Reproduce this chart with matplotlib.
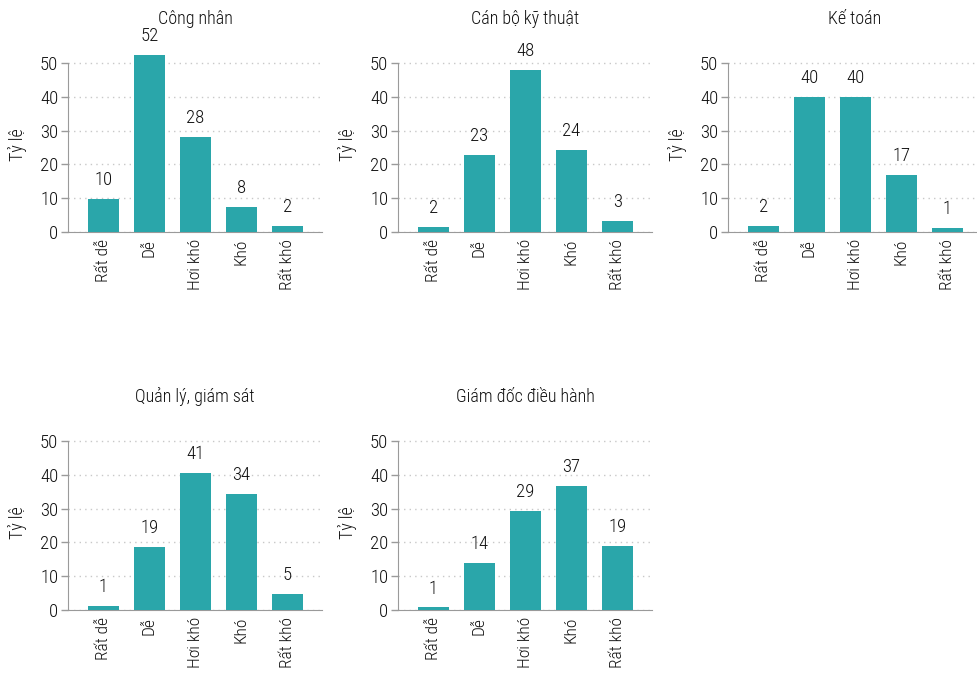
import numpy as np
import matplotlib
matplotlib.use('Agg')
import matplotlib.pyplot as plt

# Difficulty levels (x axis) and one series per job group
categories = ['Rất dễ', 'Dễ', 'Hơi khó', 'Khó', 'Rất khó']
titles = ['Công nhân', 'Cán bộ kỹ thuật', 'Kế toán', 'Quản lý, giám sát', 'Giám đốc điều hành']
cong_nhan = [9.8, 52.4, 28.1, 7.5, 1.8]
can_bo_ky_thuat = [1.6, 22.8, 47.9, 24.3, 3.3]
ke_toan = [1.8, 40.0, 40.0, 16.9, 1.2]
quan_ly = [1.3, 18.7, 40.6, 34.4, 4.8]
giam_doc = [0.8, 14.0, 29.3, 36.8, 18.9]
series = [cong_nhan, can_bo_ky_thuat, ke_toan, quan_ly, giam_doc]
yticks = [0, 10, 20, 30, 40, 50]

bar_color = '#2aa6aa'
text_color = '#111111'
axis_color = '#9a9a9a'

plt.rcParams['font.family'] = ['Roboto Condensed', 'Roboto', 'DejaVu Sans']
plt.rcParams['font.weight'] = 'light'
plt.rcParams['text.color'] = text_color
plt.rcParams['axes.labelcolor'] = text_color
plt.rcParams['axes.titleweight'] = 'light'
plt.rcParams['axes.labelweight'] = 'light'
plt.rcParams['xtick.color'] = text_color
plt.rcParams['ytick.color'] = text_color

fig = plt.figure(figsize=(9.77, 6.78), dpi=100)

W, H = 977.0, 678.0
lefts = [68, 398, 728, 68, 398]
bottoms = [232, 232, 232, 610, 610]
ax_w = 254
ax_h = 186

for i, vals in enumerate(series):
    ax = fig.add_axes([lefts[i] / W, 1 - bottoms[i] / H, ax_w / W, ax_h / H])
    x = np.arange(len(categories))
    ax.bar(x, vals, width=0.67, color=bar_color, zorder=3)
    for xi, v in zip(x, vals):
        ax.annotate(f"{v:.0f}", (xi, v), xytext=(0, 7), textcoords='offset points',
                    ha='center', va='bottom', fontsize=13.5, color=text_color)

    ax.set_xlim(-0.77, 4.75)
    ax.set_ylim(0, 55)
    ax.set_yticks(yticks)
    ax.set_xticks(x)
    ax.set_xticklabels(categories, rotation=90, fontsize=12.5)
    ax.tick_params(axis='x', length=0, pad=5)
    ax.tick_params(axis='y', length=5, width=1, color=axis_color, labelsize=13.5, pad=2)

    ax.grid(axis='y', linestyle=(0, (1, 3)), color='#c8c8c8', linewidth=1, zorder=0)
    ax.grid(axis='x', visible=False)
    for side in ['top', 'right']:
        ax.spines[side].set_visible(False)
    ax.spines['left'].set_bounds(0, 50)
    ax.spines['left'].set_color(axis_color)
    ax.spines['bottom'].set_color(axis_color)

    ax.set_ylabel('Tỷ lệ', fontsize=13)
    ax.yaxis.set_label_coords(-0.161, 0.47)
    ax.set_title(titles[i], fontsize=13, pad=16, color=text_color)

fig.savefig('out.png', dpi=100)
